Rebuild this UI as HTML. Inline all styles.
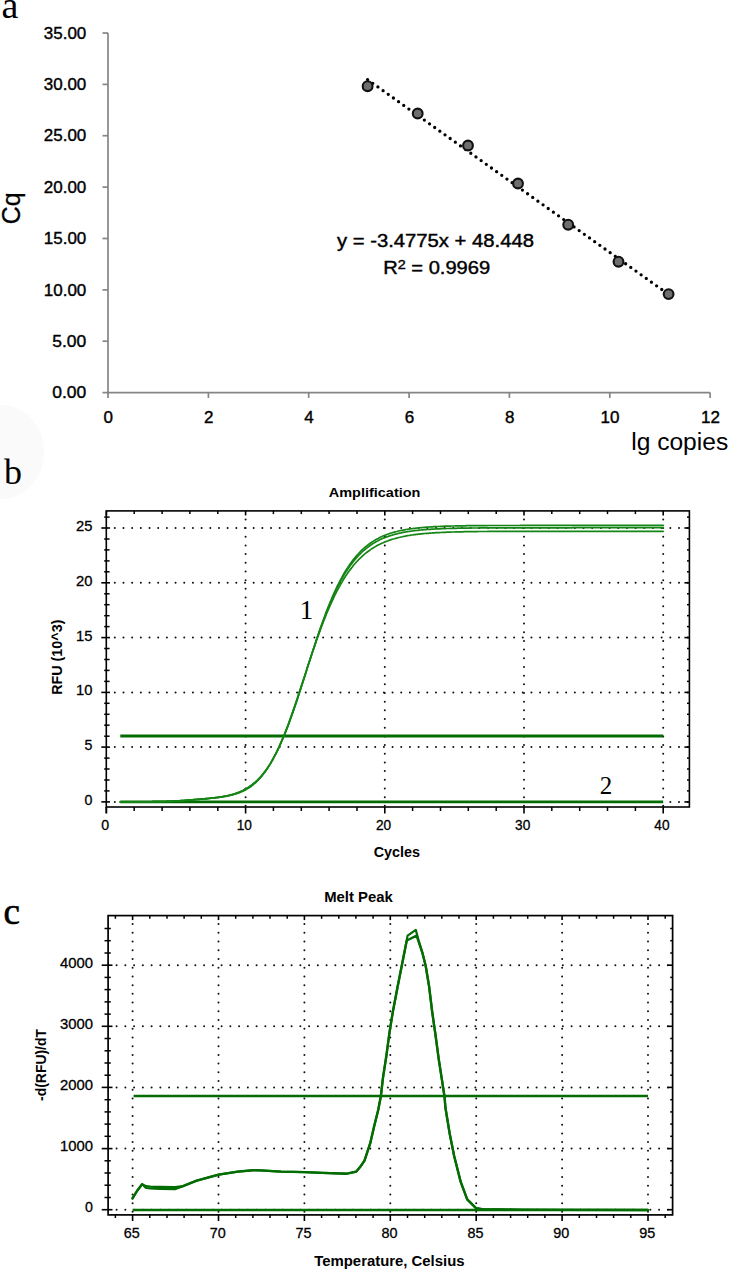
<!DOCTYPE html>
<html><head><meta charset="utf-8"><title>qPCR figure</title>
<style>html,body{margin:0;padding:0;background:#fff;}svg{display:block;}</style></head>
<body><svg width="731" height="1270" viewBox="0 0 731 1270">
<rect width="731" height="1270" fill="#fff"/>
<ellipse cx="2" cy="452" rx="42" ry="47" fill="#fafafa"/>
<text x="1.5" y="17.5" font-size="38" font-family='"Liberation Serif", serif' fill="#000">a</text>
<text x="4" y="484.3" font-size="36" font-family='"Liberation Serif", serif' fill="#000">b</text>
<text x="3.5" y="923.7" font-size="37" font-family='"Liberation Serif", serif' fill="#000" stroke="#000" stroke-width="0.6">c</text>
<line x1="108" y1="33" x2="108" y2="393.4" stroke="#858585" stroke-width="1.7"/>
<line x1="107.2" y1="392.6" x2="710.1" y2="392.6" stroke="#858585" stroke-width="1.7"/>
<line x1="102.5" y1="392.6" x2="108" y2="392.6" stroke="#858585" stroke-width="1.7"/>
<text x="86.3" y="398.2" font-size="17" font-family='"Liberation Sans", sans-serif' text-anchor="end" textLength="34" lengthAdjust="spacingAndGlyphs" fill="#000" stroke="#000" stroke-width="0.4">0.00</text>
<line x1="102.5" y1="341.2" x2="108" y2="341.2" stroke="#858585" stroke-width="1.7"/>
<text x="86.3" y="346.8" font-size="17" font-family='"Liberation Sans", sans-serif' text-anchor="end" textLength="34" lengthAdjust="spacingAndGlyphs" fill="#000" stroke="#000" stroke-width="0.4">5.00</text>
<line x1="102.5" y1="289.9" x2="108" y2="289.9" stroke="#858585" stroke-width="1.7"/>
<text x="86.3" y="295.5" font-size="17" font-family='"Liberation Sans", sans-serif' text-anchor="end" textLength="42.5" lengthAdjust="spacingAndGlyphs" fill="#000" stroke="#000" stroke-width="0.4">10.00</text>
<line x1="102.5" y1="238.5" x2="108" y2="238.5" stroke="#858585" stroke-width="1.7"/>
<text x="86.3" y="244.1" font-size="17" font-family='"Liberation Sans", sans-serif' text-anchor="end" textLength="42.5" lengthAdjust="spacingAndGlyphs" fill="#000" stroke="#000" stroke-width="0.4">15.00</text>
<line x1="102.5" y1="187.1" x2="108" y2="187.1" stroke="#858585" stroke-width="1.7"/>
<text x="86.3" y="192.7" font-size="17" font-family='"Liberation Sans", sans-serif' text-anchor="end" textLength="42.5" lengthAdjust="spacingAndGlyphs" fill="#000" stroke="#000" stroke-width="0.4">20.00</text>
<line x1="102.5" y1="135.7" x2="108" y2="135.7" stroke="#858585" stroke-width="1.7"/>
<text x="86.3" y="141.3" font-size="17" font-family='"Liberation Sans", sans-serif' text-anchor="end" textLength="42.5" lengthAdjust="spacingAndGlyphs" fill="#000" stroke="#000" stroke-width="0.4">25.00</text>
<line x1="102.5" y1="84.4" x2="108" y2="84.4" stroke="#858585" stroke-width="1.7"/>
<text x="86.3" y="90" font-size="17" font-family='"Liberation Sans", sans-serif' text-anchor="end" textLength="42.5" lengthAdjust="spacingAndGlyphs" fill="#000" stroke="#000" stroke-width="0.4">30.00</text>
<line x1="102.5" y1="33" x2="108" y2="33" stroke="#858585" stroke-width="1.7"/>
<text x="86.3" y="38.6" font-size="17" font-family='"Liberation Sans", sans-serif' text-anchor="end" textLength="42.5" lengthAdjust="spacingAndGlyphs" fill="#000" stroke="#000" stroke-width="0.4">35.00</text>
<line x1="108" y1="392.6" x2="108" y2="397.9" stroke="#858585" stroke-width="1.7"/>
<text x="108.3" y="423.3" font-size="17" font-family='"Liberation Sans", sans-serif' text-anchor="middle" fill="#000" stroke="#000" stroke-width="0.4">0</text>
<line x1="208.4" y1="392.6" x2="208.4" y2="397.9" stroke="#858585" stroke-width="1.7"/>
<text x="208.7" y="423.3" font-size="17" font-family='"Liberation Sans", sans-serif' text-anchor="middle" fill="#000" stroke="#000" stroke-width="0.4">2</text>
<line x1="308.7" y1="392.6" x2="308.7" y2="397.9" stroke="#858585" stroke-width="1.7"/>
<text x="309" y="423.3" font-size="17" font-family='"Liberation Sans", sans-serif' text-anchor="middle" fill="#000" stroke="#000" stroke-width="0.4">4</text>
<line x1="409.1" y1="392.6" x2="409.1" y2="397.9" stroke="#858585" stroke-width="1.7"/>
<text x="409.4" y="423.3" font-size="17" font-family='"Liberation Sans", sans-serif' text-anchor="middle" fill="#000" stroke="#000" stroke-width="0.4">6</text>
<line x1="509.4" y1="392.6" x2="509.4" y2="397.9" stroke="#858585" stroke-width="1.7"/>
<text x="509.7" y="423.3" font-size="17" font-family='"Liberation Sans", sans-serif' text-anchor="middle" fill="#000" stroke="#000" stroke-width="0.4">8</text>
<line x1="609.8" y1="392.6" x2="609.8" y2="397.9" stroke="#858585" stroke-width="1.7"/>
<text x="610" y="423.3" font-size="17" font-family='"Liberation Sans", sans-serif' text-anchor="middle" fill="#000" stroke="#000" stroke-width="0.4">10</text>
<line x1="710.1" y1="392.6" x2="710.1" y2="397.9" stroke="#858585" stroke-width="1.7"/>
<text x="710.4" y="423.3" font-size="17" font-family='"Liberation Sans", sans-serif' text-anchor="middle" fill="#000" stroke="#000" stroke-width="0.4">12</text>
<text x="631.2" y="449.5" font-size="23" font-family='"Liberation Sans", sans-serif' textLength="97" lengthAdjust="spacingAndGlyphs" fill="#000">lg copies</text>
<text transform="translate(19.5,224.3) rotate(-90)" font-size="25.5" stroke="#000" stroke-width="0.3" font-family='"Liberation Sans", sans-serif' textLength="31.8" lengthAdjust="spacingAndGlyphs">Cq</text>
<line x1="367.6" y1="79.6" x2="668.6" y2="294.4" stroke="#000" stroke-width="3.3" stroke-dasharray="0 6.34" stroke-linecap="round"/>
<circle cx="367.6" cy="86.2" r="4.9" fill="#6e6e6e" stroke="#111" stroke-width="2.1"/>
<circle cx="417.7" cy="113.5" r="4.9" fill="#6e6e6e" stroke="#111" stroke-width="2.1"/>
<circle cx="468.0" cy="145.5" r="4.9" fill="#6e6e6e" stroke="#111" stroke-width="2.1"/>
<circle cx="518.0" cy="183.5" r="4.9" fill="#6e6e6e" stroke="#111" stroke-width="2.1"/>
<circle cx="568.2" cy="224.7" r="4.9" fill="#6e6e6e" stroke="#111" stroke-width="2.1"/>
<circle cx="618.5" cy="261.7" r="4.9" fill="#6e6e6e" stroke="#111" stroke-width="2.1"/>
<circle cx="668.6" cy="294.1" r="4.9" fill="#6e6e6e" stroke="#111" stroke-width="2.1"/>
<text x="337" y="246.7" font-size="17.5" font-family='"Liberation Sans", sans-serif' textLength="197" lengthAdjust="spacingAndGlyphs" fill="#000" stroke="#000" stroke-width="0.4">y = -3.4775x + 48.448</text>
<text x="383.2" y="274.1" font-size="17.5" font-family='"Liberation Sans", sans-serif' textLength="107" lengthAdjust="spacingAndGlyphs" stroke="#000" stroke-width="0.4">R<tspan font-size="12.5" dy="-5">2</tspan><tspan dy="5"> = 0.9969</tspan></text>
<line x1="114.8" y1="801.9" x2="689.4" y2="801.9" stroke="#111" stroke-width="2.0" stroke-dasharray="0 8.68" stroke-linecap="round"/>
<line x1="114.8" y1="747.1" x2="689.4" y2="747.1" stroke="#111" stroke-width="2.0" stroke-dasharray="0 8.68" stroke-linecap="round"/>
<line x1="114.8" y1="692.4" x2="689.4" y2="692.4" stroke="#111" stroke-width="2.0" stroke-dasharray="0 8.68" stroke-linecap="round"/>
<line x1="114.8" y1="637.6" x2="689.4" y2="637.6" stroke="#111" stroke-width="2.0" stroke-dasharray="0 8.68" stroke-linecap="round"/>
<line x1="114.8" y1="582.8" x2="689.4" y2="582.8" stroke="#111" stroke-width="2.0" stroke-dasharray="0 8.68" stroke-linecap="round"/>
<line x1="114.8" y1="528" x2="689.4" y2="528" stroke="#111" stroke-width="2.0" stroke-dasharray="0 8.68" stroke-linecap="round"/>
<line x1="245.6" y1="519.4" x2="245.6" y2="807" stroke="#111" stroke-width="2.0" stroke-dasharray="0 8.68" stroke-linecap="round"/>
<line x1="384.8" y1="519.4" x2="384.8" y2="807" stroke="#111" stroke-width="2.0" stroke-dasharray="0 8.68" stroke-linecap="round"/>
<line x1="524" y1="519.4" x2="524" y2="807" stroke="#111" stroke-width="2.0" stroke-dasharray="0 8.68" stroke-linecap="round"/>
<line x1="663.2" y1="519.4" x2="663.2" y2="807" stroke="#111" stroke-width="2.0" stroke-dasharray="0 8.68" stroke-linecap="round"/>
<rect x="106.3" y="510.9" width="583.1" height="296.1" fill="none" stroke="#000" stroke-width="1.6"/>
<line x1="106.3" y1="807" x2="106.3" y2="813.2" stroke="#000" stroke-width="1.6"/>
<line x1="101.3" y1="801.9" x2="110" y2="801.9" stroke="#000" stroke-width="1.6"/>
<line x1="684.4" y1="801.9" x2="689.4" y2="801.9" stroke="#000" stroke-width="1.6"/>
<line x1="104.2" y1="790.9" x2="109.6" y2="790.9" stroke="#000" stroke-width="1.5"/>
<line x1="687" y1="790.9" x2="689.4" y2="790.9" stroke="#000" stroke-width="1.5"/>
<line x1="104.2" y1="780" x2="109.6" y2="780" stroke="#000" stroke-width="1.5"/>
<line x1="687" y1="780" x2="689.4" y2="780" stroke="#000" stroke-width="1.5"/>
<line x1="104.2" y1="769" x2="109.6" y2="769" stroke="#000" stroke-width="1.5"/>
<line x1="687" y1="769" x2="689.4" y2="769" stroke="#000" stroke-width="1.5"/>
<line x1="104.2" y1="758.1" x2="109.6" y2="758.1" stroke="#000" stroke-width="1.5"/>
<line x1="687" y1="758.1" x2="689.4" y2="758.1" stroke="#000" stroke-width="1.5"/>
<line x1="101.3" y1="747.1" x2="110" y2="747.1" stroke="#000" stroke-width="1.6"/>
<line x1="684.4" y1="747.1" x2="689.4" y2="747.1" stroke="#000" stroke-width="1.6"/>
<line x1="104.2" y1="736.2" x2="109.6" y2="736.2" stroke="#000" stroke-width="1.5"/>
<line x1="687" y1="736.2" x2="689.4" y2="736.2" stroke="#000" stroke-width="1.5"/>
<line x1="104.2" y1="725.2" x2="109.6" y2="725.2" stroke="#000" stroke-width="1.5"/>
<line x1="687" y1="725.2" x2="689.4" y2="725.2" stroke="#000" stroke-width="1.5"/>
<line x1="104.2" y1="714.3" x2="109.6" y2="714.3" stroke="#000" stroke-width="1.5"/>
<line x1="687" y1="714.3" x2="689.4" y2="714.3" stroke="#000" stroke-width="1.5"/>
<line x1="104.2" y1="703.3" x2="109.6" y2="703.3" stroke="#000" stroke-width="1.5"/>
<line x1="687" y1="703.3" x2="689.4" y2="703.3" stroke="#000" stroke-width="1.5"/>
<line x1="101.3" y1="692.4" x2="110" y2="692.4" stroke="#000" stroke-width="1.6"/>
<line x1="684.4" y1="692.4" x2="689.4" y2="692.4" stroke="#000" stroke-width="1.6"/>
<line x1="104.2" y1="681.4" x2="109.6" y2="681.4" stroke="#000" stroke-width="1.5"/>
<line x1="687" y1="681.4" x2="689.4" y2="681.4" stroke="#000" stroke-width="1.5"/>
<line x1="104.2" y1="670.4" x2="109.6" y2="670.4" stroke="#000" stroke-width="1.5"/>
<line x1="687" y1="670.4" x2="689.4" y2="670.4" stroke="#000" stroke-width="1.5"/>
<line x1="104.2" y1="659.5" x2="109.6" y2="659.5" stroke="#000" stroke-width="1.5"/>
<line x1="687" y1="659.5" x2="689.4" y2="659.5" stroke="#000" stroke-width="1.5"/>
<line x1="104.2" y1="648.5" x2="109.6" y2="648.5" stroke="#000" stroke-width="1.5"/>
<line x1="687" y1="648.5" x2="689.4" y2="648.5" stroke="#000" stroke-width="1.5"/>
<line x1="101.3" y1="637.6" x2="110" y2="637.6" stroke="#000" stroke-width="1.6"/>
<line x1="684.4" y1="637.6" x2="689.4" y2="637.6" stroke="#000" stroke-width="1.6"/>
<line x1="104.2" y1="626.6" x2="109.6" y2="626.6" stroke="#000" stroke-width="1.5"/>
<line x1="687" y1="626.6" x2="689.4" y2="626.6" stroke="#000" stroke-width="1.5"/>
<line x1="104.2" y1="615.7" x2="109.6" y2="615.7" stroke="#000" stroke-width="1.5"/>
<line x1="687" y1="615.7" x2="689.4" y2="615.7" stroke="#000" stroke-width="1.5"/>
<line x1="104.2" y1="604.7" x2="109.6" y2="604.7" stroke="#000" stroke-width="1.5"/>
<line x1="687" y1="604.7" x2="689.4" y2="604.7" stroke="#000" stroke-width="1.5"/>
<line x1="104.2" y1="593.8" x2="109.6" y2="593.8" stroke="#000" stroke-width="1.5"/>
<line x1="687" y1="593.8" x2="689.4" y2="593.8" stroke="#000" stroke-width="1.5"/>
<line x1="101.3" y1="582.8" x2="110" y2="582.8" stroke="#000" stroke-width="1.6"/>
<line x1="684.4" y1="582.8" x2="689.4" y2="582.8" stroke="#000" stroke-width="1.6"/>
<line x1="104.2" y1="571.8" x2="109.6" y2="571.8" stroke="#000" stroke-width="1.5"/>
<line x1="687" y1="571.8" x2="689.4" y2="571.8" stroke="#000" stroke-width="1.5"/>
<line x1="104.2" y1="560.9" x2="109.6" y2="560.9" stroke="#000" stroke-width="1.5"/>
<line x1="687" y1="560.9" x2="689.4" y2="560.9" stroke="#000" stroke-width="1.5"/>
<line x1="104.2" y1="549.9" x2="109.6" y2="549.9" stroke="#000" stroke-width="1.5"/>
<line x1="687" y1="549.9" x2="689.4" y2="549.9" stroke="#000" stroke-width="1.5"/>
<line x1="104.2" y1="539" x2="109.6" y2="539" stroke="#000" stroke-width="1.5"/>
<line x1="687" y1="539" x2="689.4" y2="539" stroke="#000" stroke-width="1.5"/>
<line x1="101.3" y1="528" x2="110" y2="528" stroke="#000" stroke-width="1.6"/>
<line x1="684.4" y1="528" x2="689.4" y2="528" stroke="#000" stroke-width="1.6"/>
<line x1="104.2" y1="517.1" x2="109.6" y2="517.1" stroke="#000" stroke-width="1.5"/>
<line x1="687" y1="517.1" x2="689.4" y2="517.1" stroke="#000" stroke-width="1.5"/>
<line x1="106.4" y1="807" x2="106.4" y2="813.5" stroke="#000" stroke-width="1.6"/>
<line x1="106.4" y1="510.9" x2="106.4" y2="515.4" stroke="#000" stroke-width="1.6"/>
<line x1="134.2" y1="807" x2="134.2" y2="811" stroke="#000" stroke-width="1.5"/>
<line x1="134.2" y1="510.9" x2="134.2" y2="514.1" stroke="#000" stroke-width="1.5"/>
<line x1="162.1" y1="807" x2="162.1" y2="811" stroke="#000" stroke-width="1.5"/>
<line x1="162.1" y1="510.9" x2="162.1" y2="514.1" stroke="#000" stroke-width="1.5"/>
<line x1="189.9" y1="807" x2="189.9" y2="811" stroke="#000" stroke-width="1.5"/>
<line x1="189.9" y1="510.9" x2="189.9" y2="514.1" stroke="#000" stroke-width="1.5"/>
<line x1="217.8" y1="807" x2="217.8" y2="811" stroke="#000" stroke-width="1.5"/>
<line x1="217.8" y1="510.9" x2="217.8" y2="514.1" stroke="#000" stroke-width="1.5"/>
<line x1="245.6" y1="807" x2="245.6" y2="813.5" stroke="#000" stroke-width="1.6"/>
<line x1="245.6" y1="510.9" x2="245.6" y2="515.4" stroke="#000" stroke-width="1.6"/>
<line x1="273.4" y1="807" x2="273.4" y2="811" stroke="#000" stroke-width="1.5"/>
<line x1="273.4" y1="510.9" x2="273.4" y2="514.1" stroke="#000" stroke-width="1.5"/>
<line x1="301.3" y1="807" x2="301.3" y2="811" stroke="#000" stroke-width="1.5"/>
<line x1="301.3" y1="510.9" x2="301.3" y2="514.1" stroke="#000" stroke-width="1.5"/>
<line x1="329.1" y1="807" x2="329.1" y2="811" stroke="#000" stroke-width="1.5"/>
<line x1="329.1" y1="510.9" x2="329.1" y2="514.1" stroke="#000" stroke-width="1.5"/>
<line x1="357" y1="807" x2="357" y2="811" stroke="#000" stroke-width="1.5"/>
<line x1="357" y1="510.9" x2="357" y2="514.1" stroke="#000" stroke-width="1.5"/>
<line x1="384.8" y1="807" x2="384.8" y2="813.5" stroke="#000" stroke-width="1.6"/>
<line x1="384.8" y1="510.9" x2="384.8" y2="515.4" stroke="#000" stroke-width="1.6"/>
<line x1="412.6" y1="807" x2="412.6" y2="811" stroke="#000" stroke-width="1.5"/>
<line x1="412.6" y1="510.9" x2="412.6" y2="514.1" stroke="#000" stroke-width="1.5"/>
<line x1="440.5" y1="807" x2="440.5" y2="811" stroke="#000" stroke-width="1.5"/>
<line x1="440.5" y1="510.9" x2="440.5" y2="514.1" stroke="#000" stroke-width="1.5"/>
<line x1="468.3" y1="807" x2="468.3" y2="811" stroke="#000" stroke-width="1.5"/>
<line x1="468.3" y1="510.9" x2="468.3" y2="514.1" stroke="#000" stroke-width="1.5"/>
<line x1="496.2" y1="807" x2="496.2" y2="811" stroke="#000" stroke-width="1.5"/>
<line x1="496.2" y1="510.9" x2="496.2" y2="514.1" stroke="#000" stroke-width="1.5"/>
<line x1="524" y1="807" x2="524" y2="813.5" stroke="#000" stroke-width="1.6"/>
<line x1="524" y1="510.9" x2="524" y2="515.4" stroke="#000" stroke-width="1.6"/>
<line x1="551.8" y1="807" x2="551.8" y2="811" stroke="#000" stroke-width="1.5"/>
<line x1="551.8" y1="510.9" x2="551.8" y2="514.1" stroke="#000" stroke-width="1.5"/>
<line x1="579.7" y1="807" x2="579.7" y2="811" stroke="#000" stroke-width="1.5"/>
<line x1="579.7" y1="510.9" x2="579.7" y2="514.1" stroke="#000" stroke-width="1.5"/>
<line x1="607.5" y1="807" x2="607.5" y2="811" stroke="#000" stroke-width="1.5"/>
<line x1="607.5" y1="510.9" x2="607.5" y2="514.1" stroke="#000" stroke-width="1.5"/>
<line x1="635.4" y1="807" x2="635.4" y2="811" stroke="#000" stroke-width="1.5"/>
<line x1="635.4" y1="510.9" x2="635.4" y2="514.1" stroke="#000" stroke-width="1.5"/>
<line x1="663.2" y1="807" x2="663.2" y2="813.5" stroke="#000" stroke-width="1.6"/>
<line x1="663.2" y1="510.9" x2="663.2" y2="515.4" stroke="#000" stroke-width="1.6"/>
<text x="92.5" y="804.8" font-size="14.8" font-family='"Liberation Sans", sans-serif' text-anchor="end" textLength="7.9" lengthAdjust="spacingAndGlyphs" fill="#000" stroke="#000" stroke-width="0.3">0</text>
<text x="92.5" y="750" font-size="14.8" font-family='"Liberation Sans", sans-serif' text-anchor="end" textLength="7.9" lengthAdjust="spacingAndGlyphs" fill="#000" stroke="#000" stroke-width="0.3">5</text>
<text x="92.5" y="695.2" font-size="14.8" font-family='"Liberation Sans", sans-serif' text-anchor="end" textLength="16.4" lengthAdjust="spacingAndGlyphs" fill="#000" stroke="#000" stroke-width="0.3">10</text>
<text x="92.5" y="640.5" font-size="14.8" font-family='"Liberation Sans", sans-serif' text-anchor="end" textLength="16.4" lengthAdjust="spacingAndGlyphs" fill="#000" stroke="#000" stroke-width="0.3">15</text>
<text x="92.5" y="585.7" font-size="14.8" font-family='"Liberation Sans", sans-serif' text-anchor="end" textLength="16.4" lengthAdjust="spacingAndGlyphs" fill="#000" stroke="#000" stroke-width="0.3">20</text>
<text x="92.5" y="530.9" font-size="14.8" font-family='"Liberation Sans", sans-serif' text-anchor="end" textLength="16.4" lengthAdjust="spacingAndGlyphs" fill="#000" stroke="#000" stroke-width="0.3">25</text>
<text x="105.1" y="830.1" font-size="14.8" font-family='"Liberation Sans", sans-serif' text-anchor="middle" textLength="7.9" lengthAdjust="spacingAndGlyphs" fill="#000" stroke="#000" stroke-width="0.3">0</text>
<text x="244.3" y="830.1" font-size="14.8" font-family='"Liberation Sans", sans-serif' text-anchor="middle" textLength="15.2" lengthAdjust="spacingAndGlyphs" fill="#000" stroke="#000" stroke-width="0.3">10</text>
<text x="383.5" y="830.1" font-size="14.8" font-family='"Liberation Sans", sans-serif' text-anchor="middle" textLength="15.2" lengthAdjust="spacingAndGlyphs" fill="#000" stroke="#000" stroke-width="0.3">20</text>
<text x="522.7" y="830.1" font-size="14.8" font-family='"Liberation Sans", sans-serif' text-anchor="middle" textLength="15.2" lengthAdjust="spacingAndGlyphs" fill="#000" stroke="#000" stroke-width="0.3">30</text>
<text x="661.9" y="830.1" font-size="14.8" font-family='"Liberation Sans", sans-serif' text-anchor="middle" textLength="15.2" lengthAdjust="spacingAndGlyphs" fill="#000" stroke="#000" stroke-width="0.3">40</text>
<text x="328.8" y="496.5" font-size="13.6" font-family='"Liberation Sans", sans-serif' font-weight="bold" textLength="91.6" lengthAdjust="spacingAndGlyphs" fill="#000">Amplification</text>
<text x="373.7" y="857.4" font-size="14.3" font-family='"Liberation Sans", sans-serif' font-weight="bold" textLength="46.3" lengthAdjust="spacingAndGlyphs" fill="#000">Cycles</text>
<text transform="translate(62.4,694.8) rotate(-90)" font-size="14.4" font-weight="bold" font-family='"Liberation Sans", sans-serif' textLength="75.2" lengthAdjust="spacingAndGlyphs">RFU (10^3)</text>
<text x="299.8" y="619" font-size="27" font-family='"Liberation Serif", serif' fill="#000">1</text>
<text x="599.8" y="793.6" font-size="25" font-family='"Liberation Serif", serif' fill="#000">2</text>
<line x1="120.3" y1="736" x2="663.2" y2="736" stroke="#036c03" stroke-width="2.8"/>
<line x1="120.3" y1="801.9" x2="663.2" y2="801.9" stroke="#036c03" stroke-width="2.8"/>
<path d="M120.3,801.9 L121.4,801.9 L122.5,801.9 L123.6,801.9 L124.7,801.9 L125.8,801.9 L126.8,801.9 L127.9,801.9 L129.0,801.9 L130.1,801.9 L131.2,801.9 L132.3,801.9 L133.4,801.9 L134.5,801.9 L135.6,801.9 L136.6,801.9 L137.7,801.9 L138.8,801.8 L139.9,801.8 L141.0,801.8 L142.1,801.8 L143.2,801.8 L144.3,801.8 L145.3,801.8 L146.4,801.8 L147.5,801.8 L148.6,801.8 L149.7,801.8 L150.8,801.8 L151.9,801.8 L153.0,801.7 L154.0,801.7 L155.1,801.7 L156.2,801.7 L157.3,801.7 L158.4,801.7 L159.5,801.6 L160.6,801.6 L161.7,801.6 L162.7,801.6 L163.8,801.5 L164.9,801.5 L166.0,801.5 L167.1,801.4 L168.2,801.4 L169.3,801.4 L170.4,801.3 L171.5,801.3 L172.5,801.2 L173.6,801.2 L174.7,801.1 L175.8,801.1 L176.9,801.0 L178.0,800.9 L179.1,800.9 L180.2,800.8 L181.2,800.7 L182.3,800.7 L183.4,800.6 L184.5,800.5 L185.6,800.4 L186.7,800.3 L187.8,800.3 L188.9,800.2 L189.9,800.1 L191.0,800.0 L192.1,799.9 L193.2,799.8 L194.3,799.7 L195.4,799.6 L196.5,799.5 L197.6,799.5 L198.7,799.4 L199.7,799.3 L200.8,799.2 L201.9,799.1 L203.0,799.0 L204.1,798.9 L205.2,798.8 L206.3,798.7 L207.4,798.6 L208.4,798.5 L209.5,798.4 L210.6,798.2 L211.7,798.1 L212.8,798.0 L213.9,797.9 L215.0,797.7 L216.1,797.6 L217.1,797.5 L218.2,797.3 L219.3,797.1 L220.4,797.0 L221.5,796.8 L222.6,796.6 L223.7,796.4 L224.8,796.2 L225.8,796.0 L226.9,795.8 L228.0,795.5 L229.1,795.3 L230.2,795.0 L231.3,794.7 L232.4,794.4 L233.5,794.1 L234.6,793.7 L235.6,793.4 L236.7,793.0 L237.8,792.6 L238.9,792.2 L240.0,791.7 L241.1,791.2 L242.2,790.7 L243.3,790.2 L244.3,789.6 L245.4,789.0 L246.5,788.4 L247.6,787.8 L248.7,787.1 L249.8,786.3 L250.9,785.6 L252.0,784.8 L253.0,783.9 L254.1,783.0 L255.2,782.1 L256.3,781.1 L257.4,780.1 L258.5,779.0 L259.6,777.9 L260.7,776.7 L261.8,775.5 L262.8,774.2 L263.9,772.8 L265.0,771.4 L266.1,769.9 L267.2,768.4 L268.3,766.8 L269.4,765.1 L270.5,763.4 L271.5,761.6 L272.6,759.7 L273.7,757.7 L274.8,755.7 L275.9,753.6 L277.0,751.5 L278.1,749.3 L279.2,747.0 L280.2,744.6 L281.3,742.2 L282.4,739.7 L283.5,737.1 L284.6,734.5 L285.7,731.8 L286.8,729.0 L287.9,726.2 L289.0,723.3 L290.0,720.3 L291.1,717.3 L292.2,714.2 L293.3,711.1 L294.4,708.0 L295.5,704.8 L296.6,701.5 L297.7,698.2 L298.7,694.9 L299.8,691.6 L300.9,688.2 L302.0,684.8 L303.1,681.4 L304.2,678.0 L305.3,674.6 L306.4,671.1 L307.4,667.7 L308.5,664.3 L309.6,660.8 L310.7,657.4 L311.8,654.0 L312.9,650.6 L314.0,647.3 L315.1,644.0 L316.1,640.7 L317.2,637.4 L318.3,634.2 L319.4,631.0 L320.5,627.9 L321.6,624.8 L322.7,621.7 L323.8,618.7 L324.9,615.8 L325.9,612.9 L327.0,610.0 L328.1,607.2 L329.2,604.5 L330.3,601.9 L331.4,599.3 L332.5,596.7 L333.6,594.2 L334.6,591.8 L335.7,589.5 L336.8,587.2 L337.9,584.9 L339.0,582.8 L340.1,580.7 L341.2,578.6 L342.3,576.6 L343.3,574.7 L344.4,572.8 L345.5,571.0 L346.6,569.3 L347.7,567.6 L348.8,565.9 L349.9,564.3 L351.0,562.8 L352.1,561.3 L353.1,559.9 L354.2,558.5 L355.3,557.2 L356.4,555.9 L357.5,554.7 L358.6,553.5 L359.7,552.3 L360.8,551.2 L361.8,550.2 L362.9,549.1 L364.0,548.2 L365.1,547.2 L366.2,546.3 L367.3,545.4 L368.4,544.6 L369.5,543.8 L370.5,543.0 L371.6,542.3 L372.7,541.6 L373.8,540.9 L374.9,540.2 L376.0,539.6 L377.1,539.0 L378.2,538.4 L379.2,537.8 L380.3,537.3 L381.4,536.8 L382.5,536.3 L383.6,535.8 L384.7,535.4 L385.8,534.9 L386.9,534.5 L388.0,534.1 L389.0,533.8 L390.1,533.4 L391.2,533.0 L392.3,532.7 L393.4,532.4 L394.5,532.1 L395.6,531.8 L396.7,531.5 L397.7,531.2 L398.8,531.0 L399.9,530.7 L401.0,530.5 L402.1,530.3 L403.2,530.1 L404.3,529.9 L405.4,529.7 L406.4,529.5 L407.5,529.3 L408.6,529.1 L409.7,529.0 L410.8,528.8 L411.9,528.7 L413.0,528.5 L414.1,528.4 L415.2,528.3 L416.2,528.1 L417.3,528.0 L418.4,527.9 L419.5,527.8 L420.6,527.7 L421.7,527.6 L422.8,527.5 L423.9,527.4 L424.9,527.3 L426.0,527.2 L427.1,527.1 L428.2,527.1 L429.3,527.0 L430.4,526.9 L431.5,526.9 L432.6,526.8 L433.6,526.7 L434.7,526.7 L435.8,526.6 L436.9,526.6 L438.0,526.5 L439.1,526.5 L440.2,526.4 L441.3,526.4 L442.3,526.3 L443.4,526.3 L444.5,526.2 L445.6,526.2 L446.7,526.2 L447.8,526.1 L448.9,526.1 L450.0,526.1 L451.1,526.0 L452.1,526.0 L453.2,526.0 L454.3,526.0 L455.4,525.9 L456.5,525.9 L457.6,525.9 L458.7,525.9 L459.8,525.9 L460.8,525.8 L461.9,525.8 L463.0,525.8 L464.1,525.8 L465.2,525.8 L466.3,525.7 L467.4,525.7 L468.5,525.7 L469.5,525.7 L470.6,525.7 L471.7,525.7 L472.8,525.7 L473.9,525.7 L475.0,525.6 L476.1,525.6 L477.2,525.6 L478.3,525.6 L479.3,525.6 L480.4,525.6 L481.5,525.6 L482.6,525.6 L483.7,525.6 L484.8,525.6 L485.9,525.6 L487.0,525.6 L488.0,525.5 L489.1,525.5 L490.2,525.5 L491.3,525.5 L492.4,525.5 L493.5,525.5 L494.6,525.5 L495.7,525.5 L496.7,525.5 L497.8,525.5 L498.9,525.5 L500.0,525.5 L501.1,525.5 L502.2,525.5 L503.3,525.5 L504.4,525.5 L505.4,525.5 L506.5,525.5 L507.6,525.5 L508.7,525.5 L509.8,525.5 L510.9,525.5 L512.0,525.5 L513.1,525.5 L514.2,525.5 L515.2,525.5 L516.3,525.5 L517.4,525.5 L518.5,525.5 L519.6,525.5 L520.7,525.4 L521.8,525.4 L522.9,525.4 L523.9,525.4 L525.0,525.4 L526.1,525.4 L527.2,525.4 L528.3,525.4 L529.4,525.4 L530.5,525.4 L531.6,525.4 L532.6,525.4 L533.7,525.4 L534.8,525.4 L535.9,525.4 L537.0,525.4 L538.1,525.4 L539.2,525.4 L540.3,525.4 L541.4,525.4 L542.4,525.4 L543.5,525.4 L544.6,525.4 L545.7,525.4 L546.8,525.4 L547.9,525.4 L549.0,525.4 L550.1,525.4 L551.1,525.4 L552.2,525.4 L553.3,525.4 L554.4,525.4 L555.5,525.4 L556.6,525.4 L557.7,525.4 L558.8,525.4 L559.8,525.4 L560.9,525.4 L562.0,525.4 L563.1,525.4 L564.2,525.4 L565.3,525.4 L566.4,525.4 L567.5,525.4 L568.5,525.4 L569.6,525.4 L570.7,525.4 L571.8,525.4 L572.9,525.4 L574.0,525.4 L575.1,525.4 L576.2,525.4 L577.3,525.4 L578.3,525.4 L579.4,525.4 L580.5,525.4 L581.6,525.4 L582.7,525.4 L583.8,525.4 L584.9,525.4 L586.0,525.4 L587.0,525.4 L588.1,525.4 L589.2,525.4 L590.3,525.4 L591.4,525.4 L592.5,525.4 L593.6,525.4 L594.7,525.4 L595.7,525.4 L596.8,525.4 L597.9,525.4 L599.0,525.4 L600.1,525.4 L601.2,525.4 L602.3,525.4 L603.4,525.4 L604.5,525.4 L605.5,525.4 L606.6,525.4 L607.7,525.4 L608.8,525.4 L609.9,525.4 L611.0,525.4 L612.1,525.4 L613.2,525.4 L614.2,525.4 L615.3,525.4 L616.4,525.4 L617.5,525.4 L618.6,525.4 L619.7,525.4 L620.8,525.4 L621.9,525.4 L622.9,525.4 L624.0,525.4 L625.1,525.4 L626.2,525.4 L627.3,525.4 L628.4,525.4 L629.5,525.4 L630.6,525.4 L631.6,525.4 L632.7,525.4 L633.8,525.4 L634.9,525.4 L636.0,525.4 L637.1,525.4 L638.2,525.4 L639.3,525.4 L640.4,525.4 L641.4,525.4 L642.5,525.4 L643.6,525.4 L644.7,525.4 L645.8,525.4 L646.9,525.4 L648.0,525.4 L649.1,525.4 L650.1,525.4 L651.2,525.4 L652.3,525.4 L653.4,525.4 L654.5,525.4 L655.6,525.4 L656.7,525.4 L657.8,525.4 L658.8,525.4 L659.9,525.4 L661.0,525.4 L662.1,525.4 L663.2,525.4" fill="none" stroke="#158515" stroke-width="1.7" stroke-linejoin="round" stroke-linecap="round"/>
<path d="M120.3,801.9 L121.4,801.9 L122.5,801.9 L123.6,801.9 L124.7,801.9 L125.8,801.9 L126.8,801.9 L127.9,801.9 L129.0,801.9 L130.1,801.9 L131.2,801.9 L132.3,801.9 L133.4,801.9 L134.5,801.9 L135.6,801.9 L136.6,801.9 L137.7,801.9 L138.8,801.8 L139.9,801.8 L141.0,801.8 L142.1,801.8 L143.2,801.8 L144.3,801.8 L145.3,801.8 L146.4,801.8 L147.5,801.8 L148.6,801.8 L149.7,801.8 L150.8,801.8 L151.9,801.8 L153.0,801.7 L154.0,801.7 L155.1,801.7 L156.2,801.7 L157.3,801.7 L158.4,801.7 L159.5,801.6 L160.6,801.6 L161.7,801.6 L162.7,801.6 L163.8,801.5 L164.9,801.5 L166.0,801.5 L167.1,801.4 L168.2,801.4 L169.3,801.4 L170.4,801.3 L171.5,801.3 L172.5,801.2 L173.6,801.2 L174.7,801.1 L175.8,801.1 L176.9,801.0 L178.0,800.9 L179.1,800.9 L180.2,800.8 L181.2,800.7 L182.3,800.6 L183.4,800.6 L184.5,800.5 L185.6,800.4 L186.7,800.3 L187.8,800.2 L188.9,800.2 L189.9,800.1 L191.0,800.0 L192.1,799.9 L193.2,799.8 L194.3,799.7 L195.4,799.6 L196.5,799.5 L197.6,799.4 L198.7,799.3 L199.7,799.2 L200.8,799.2 L201.9,799.1 L203.0,799.0 L204.1,798.9 L205.2,798.8 L206.3,798.7 L207.4,798.6 L208.4,798.5 L209.5,798.4 L210.6,798.2 L211.7,798.1 L212.8,798.0 L213.9,797.9 L215.0,797.8 L216.1,797.6 L217.1,797.5 L218.2,797.3 L219.3,797.2 L220.4,797.0 L221.5,796.8 L222.6,796.7 L223.7,796.5 L224.8,796.3 L225.8,796.1 L226.9,795.8 L228.0,795.6 L229.1,795.3 L230.2,795.1 L231.3,794.8 L232.4,794.5 L233.5,794.2 L234.6,793.8 L235.6,793.5 L236.7,793.1 L237.8,792.7 L238.9,792.3 L240.0,791.9 L241.1,791.4 L242.2,790.9 L243.3,790.4 L244.3,789.8 L245.4,789.2 L246.5,788.6 L247.6,787.9 L248.7,787.3 L249.8,786.5 L250.9,785.8 L252.0,785.0 L253.0,784.1 L254.1,783.2 L255.2,782.3 L256.3,781.3 L257.4,780.3 L258.5,779.2 L259.6,778.0 L260.7,776.8 L261.8,775.6 L262.8,774.3 L263.9,772.9 L265.0,771.5 L266.1,770.0 L267.2,768.4 L268.3,766.8 L269.4,765.1 L270.5,763.4 L271.5,761.6 L272.6,759.7 L273.7,757.7 L274.8,755.7 L275.9,753.6 L277.0,751.4 L278.1,749.2 L279.2,746.9 L280.2,744.5 L281.3,742.0 L282.4,739.5 L283.5,736.9 L284.6,734.3 L285.7,731.6 L286.8,728.8 L287.9,725.9 L289.0,723.0 L290.0,720.1 L291.1,717.1 L292.2,714.0 L293.3,710.9 L294.4,707.7 L295.5,704.5 L296.6,701.3 L297.7,698.0 L298.7,694.7 L299.8,691.4 L300.9,688.0 L302.0,684.6 L303.1,681.3 L304.2,677.9 L305.3,674.4 L306.4,671.0 L307.4,667.6 L308.5,664.2 L309.6,660.9 L310.7,657.5 L311.8,654.1 L312.9,650.8 L314.0,647.5 L315.1,644.2 L316.1,640.9 L317.2,637.7 L318.3,634.6 L319.4,631.4 L320.5,628.3 L321.6,625.3 L322.7,622.3 L323.8,619.4 L324.9,616.5 L325.9,613.6 L327.0,610.8 L328.1,608.1 L329.2,605.4 L330.3,602.8 L331.4,600.3 L332.5,597.8 L333.6,595.4 L334.6,593.0 L335.7,590.7 L336.8,588.4 L337.9,586.3 L339.0,584.1 L340.1,582.1 L341.2,580.1 L342.3,578.1 L343.3,576.2 L344.4,574.4 L345.5,572.6 L346.6,570.9 L347.7,569.3 L348.8,567.7 L349.9,566.1 L351.0,564.6 L352.1,563.2 L353.1,561.8 L354.2,560.4 L355.3,559.1 L356.4,557.9 L357.5,556.7 L358.6,555.5 L359.7,554.4 L360.8,553.3 L361.8,552.2 L362.9,551.2 L364.0,550.3 L365.1,549.3 L366.2,548.4 L367.3,547.6 L368.4,546.8 L369.5,546.0 L370.5,545.2 L371.6,544.5 L372.7,543.8 L373.8,543.1 L374.9,542.5 L376.0,541.8 L377.1,541.2 L378.2,540.7 L379.2,540.1 L380.3,539.6 L381.4,539.1 L382.5,538.6 L383.6,538.1 L384.7,537.7 L385.8,537.3 L386.9,536.9 L388.0,536.5 L389.0,536.1 L390.1,535.7 L391.2,535.4 L392.3,535.1 L393.4,534.7 L394.5,534.4 L395.6,534.1 L396.7,533.9 L397.7,533.6 L398.8,533.3 L399.9,533.1 L401.0,532.9 L402.1,532.6 L403.2,532.4 L404.3,532.2 L405.4,532.0 L406.4,531.8 L407.5,531.7 L408.6,531.5 L409.7,531.3 L410.8,531.2 L411.9,531.0 L413.0,530.9 L414.1,530.7 L415.2,530.6 L416.2,530.5 L417.3,530.4 L418.4,530.3 L419.5,530.1 L420.6,530.0 L421.7,529.9 L422.8,529.8 L423.9,529.7 L424.9,529.7 L426.0,529.6 L427.1,529.5 L428.2,529.4 L429.3,529.3 L430.4,529.3 L431.5,529.2 L432.6,529.1 L433.6,529.1 L434.7,529.0 L435.8,529.0 L436.9,528.9 L438.0,528.9 L439.1,528.8 L440.2,528.8 L441.3,528.7 L442.3,528.7 L443.4,528.6 L444.5,528.6 L445.6,528.6 L446.7,528.5 L447.8,528.5 L448.9,528.5 L450.0,528.4 L451.1,528.4 L452.1,528.4 L453.2,528.3 L454.3,528.3 L455.4,528.3 L456.5,528.3 L457.6,528.2 L458.7,528.2 L459.8,528.2 L460.8,528.2 L461.9,528.2 L463.0,528.1 L464.1,528.1 L465.2,528.1 L466.3,528.1 L467.4,528.1 L468.5,528.1 L469.5,528.0 L470.6,528.0 L471.7,528.0 L472.8,528.0 L473.9,528.0 L475.0,528.0 L476.1,528.0 L477.2,528.0 L478.3,528.0 L479.3,527.9 L480.4,527.9 L481.5,527.9 L482.6,527.9 L483.7,527.9 L484.8,527.9 L485.9,527.9 L487.0,527.9 L488.0,527.9 L489.1,527.9 L490.2,527.9 L491.3,527.9 L492.4,527.9 L493.5,527.9 L494.6,527.9 L495.7,527.8 L496.7,527.8 L497.8,527.8 L498.9,527.8 L500.0,527.8 L501.1,527.8 L502.2,527.8 L503.3,527.8 L504.4,527.8 L505.4,527.8 L506.5,527.8 L507.6,527.8 L508.7,527.8 L509.8,527.8 L510.9,527.8 L512.0,527.8 L513.1,527.8 L514.2,527.8 L515.2,527.8 L516.3,527.8 L517.4,527.8 L518.5,527.8 L519.6,527.8 L520.7,527.8 L521.8,527.8 L522.9,527.8 L523.9,527.8 L525.0,527.8 L526.1,527.8 L527.2,527.8 L528.3,527.8 L529.4,527.8 L530.5,527.8 L531.6,527.8 L532.6,527.8 L533.7,527.8 L534.8,527.8 L535.9,527.8 L537.0,527.8 L538.1,527.8 L539.2,527.8 L540.3,527.8 L541.4,527.8 L542.4,527.8 L543.5,527.8 L544.6,527.8 L545.7,527.8 L546.8,527.8 L547.9,527.8 L549.0,527.8 L550.1,527.8 L551.1,527.8 L552.2,527.8 L553.3,527.8 L554.4,527.8 L555.5,527.8 L556.6,527.8 L557.7,527.8 L558.8,527.8 L559.8,527.8 L560.9,527.8 L562.0,527.8 L563.1,527.8 L564.2,527.8 L565.3,527.8 L566.4,527.8 L567.5,527.8 L568.5,527.8 L569.6,527.8 L570.7,527.8 L571.8,527.8 L572.9,527.7 L574.0,527.7 L575.1,527.7 L576.2,527.7 L577.3,527.7 L578.3,527.7 L579.4,527.7 L580.5,527.7 L581.6,527.7 L582.7,527.7 L583.8,527.7 L584.9,527.7 L586.0,527.7 L587.0,527.7 L588.1,527.7 L589.2,527.7 L590.3,527.7 L591.4,527.7 L592.5,527.7 L593.6,527.7 L594.7,527.7 L595.7,527.7 L596.8,527.7 L597.9,527.7 L599.0,527.7 L600.1,527.7 L601.2,527.7 L602.3,527.7 L603.4,527.7 L604.5,527.7 L605.5,527.7 L606.6,527.7 L607.7,527.7 L608.8,527.7 L609.9,527.7 L611.0,527.7 L612.1,527.7 L613.2,527.7 L614.2,527.7 L615.3,527.7 L616.4,527.7 L617.5,527.7 L618.6,527.7 L619.7,527.7 L620.8,527.7 L621.9,527.7 L622.9,527.7 L624.0,527.7 L625.1,527.7 L626.2,527.7 L627.3,527.7 L628.4,527.7 L629.5,527.7 L630.6,527.7 L631.6,527.7 L632.7,527.7 L633.8,527.7 L634.9,527.7 L636.0,527.7 L637.1,527.7 L638.2,527.7 L639.3,527.7 L640.4,527.7 L641.4,527.7 L642.5,527.7 L643.6,527.7 L644.7,527.7 L645.8,527.7 L646.9,527.7 L648.0,527.7 L649.1,527.7 L650.1,527.7 L651.2,527.7 L652.3,527.7 L653.4,527.7 L654.5,527.7 L655.6,527.7 L656.7,527.7 L657.8,527.7 L658.8,527.7 L659.9,527.7 L661.0,527.7 L662.1,527.7 L663.2,527.7" fill="none" stroke="#158515" stroke-width="1.7" stroke-linejoin="round" stroke-linecap="round"/>
<path d="M120.3,801.9 L121.4,801.9 L122.5,801.9 L123.6,801.9 L124.7,801.9 L125.8,801.9 L126.8,801.9 L127.9,801.9 L129.0,801.9 L130.1,801.9 L131.2,801.9 L132.3,801.9 L133.4,801.9 L134.5,801.9 L135.6,801.9 L136.6,801.9 L137.7,801.9 L138.8,801.9 L139.9,801.8 L141.0,801.8 L142.1,801.8 L143.2,801.8 L144.3,801.8 L145.3,801.8 L146.4,801.8 L147.5,801.8 L148.6,801.8 L149.7,801.8 L150.8,801.8 L151.9,801.8 L153.0,801.7 L154.0,801.7 L155.1,801.7 L156.2,801.7 L157.3,801.7 L158.4,801.7 L159.5,801.6 L160.6,801.6 L161.7,801.6 L162.7,801.6 L163.8,801.5 L164.9,801.5 L166.0,801.5 L167.1,801.4 L168.2,801.4 L169.3,801.3 L170.4,801.3 L171.5,801.2 L172.5,801.2 L173.6,801.1 L174.7,801.1 L175.8,801.0 L176.9,800.9 L178.0,800.9 L179.1,800.8 L180.2,800.7 L181.2,800.6 L182.3,800.6 L183.4,800.5 L184.5,800.4 L185.6,800.3 L186.7,800.2 L187.8,800.1 L188.9,800.0 L189.9,799.9 L191.0,799.8 L192.1,799.8 L193.2,799.7 L194.3,799.6 L195.4,799.5 L196.5,799.4 L197.6,799.3 L198.7,799.2 L199.7,799.1 L200.8,799.0 L201.9,798.9 L203.0,798.9 L204.1,798.8 L205.2,798.7 L206.3,798.6 L207.4,798.5 L208.4,798.4 L209.5,798.3 L210.6,798.2 L211.7,798.1 L212.8,798.0 L213.9,797.9 L215.0,797.8 L216.1,797.7 L217.1,797.6 L218.2,797.4 L219.3,797.3 L220.4,797.2 L221.5,797.0 L222.6,796.9 L223.7,796.7 L224.8,796.5 L225.8,796.3 L226.9,796.1 L228.0,795.9 L229.1,795.7 L230.2,795.5 L231.3,795.2 L232.4,794.9 L233.5,794.6 L234.6,794.3 L235.6,794.0 L236.7,793.6 L237.8,793.3 L238.9,792.9 L240.0,792.4 L241.1,792.0 L242.2,791.5 L243.3,791.0 L244.3,790.5 L245.4,789.9 L246.5,789.3 L247.6,788.6 L248.7,788.0 L249.8,787.2 L250.9,786.5 L252.0,785.7 L253.0,784.8 L254.1,783.9 L255.2,783.0 L256.3,782.0 L257.4,780.9 L258.5,779.8 L259.6,778.7 L260.7,777.4 L261.8,776.2 L262.8,774.8 L263.9,773.4 L265.0,771.9 L266.1,770.4 L267.2,768.8 L268.3,767.1 L269.4,765.4 L270.5,763.6 L271.5,761.7 L272.6,759.8 L273.7,757.7 L274.8,755.6 L275.9,753.5 L277.0,751.2 L278.1,748.9 L279.2,746.6 L280.2,744.1 L281.3,741.6 L282.4,739.0 L283.5,736.4 L284.6,733.7 L285.7,730.9 L286.8,728.1 L287.9,725.2 L289.0,722.2 L290.0,719.2 L291.1,716.2 L292.2,713.1 L293.3,710.0 L294.4,706.8 L295.5,703.6 L296.6,700.4 L297.7,697.1 L298.7,693.9 L299.8,690.6 L300.9,687.3 L302.0,683.9 L303.1,680.6 L304.2,677.3 L305.3,673.9 L306.4,670.6 L307.4,667.3 L308.5,664.0 L309.6,660.7 L310.7,657.4 L311.8,654.2 L312.9,651.0 L314.0,647.8 L315.1,644.6 L316.1,641.5 L317.2,638.4 L318.3,635.4 L319.4,632.4 L320.5,629.4 L321.6,626.5 L322.7,623.6 L323.8,620.8 L324.9,618.1 L325.9,615.4 L327.0,612.7 L328.1,610.1 L329.2,607.6 L330.3,605.1 L331.4,602.7 L332.5,600.3 L333.6,598.0 L334.6,595.7 L335.7,593.5 L336.8,591.4 L337.9,589.3 L339.0,587.3 L340.1,585.3 L341.2,583.4 L342.3,581.6 L343.3,579.8 L344.4,578.0 L345.5,576.3 L346.6,574.7 L347.7,573.1 L348.8,571.5 L349.9,570.0 L351.0,568.6 L352.1,567.2 L353.1,565.8 L354.2,564.5 L355.3,563.3 L356.4,562.0 L357.5,560.9 L358.6,559.7 L359.7,558.6 L360.8,557.6 L361.8,556.6 L362.9,555.6 L364.0,554.6 L365.1,553.7 L366.2,552.8 L367.3,552.0 L368.4,551.2 L369.5,550.4 L370.5,549.6 L371.6,548.9 L372.7,548.2 L373.8,547.5 L374.9,546.9 L376.0,546.2 L377.1,545.6 L378.2,545.0 L379.2,544.5 L380.3,544.0 L381.4,543.4 L382.5,543.0 L383.6,542.5 L384.7,542.0 L385.8,541.6 L386.9,541.2 L388.0,540.8 L389.0,540.4 L390.1,540.0 L391.2,539.6 L392.3,539.3 L393.4,539.0 L394.5,538.7 L395.6,538.3 L396.7,538.1 L397.7,537.8 L398.8,537.5 L399.9,537.3 L401.0,537.0 L402.1,536.8 L403.2,536.5 L404.3,536.3 L405.4,536.1 L406.4,535.9 L407.5,535.7 L408.6,535.5 L409.7,535.4 L410.8,535.2 L411.9,535.0 L413.0,534.9 L414.1,534.7 L415.2,534.6 L416.2,534.4 L417.3,534.3 L418.4,534.2 L419.5,534.1 L420.6,533.9 L421.7,533.8 L422.8,533.7 L423.9,533.6 L424.9,533.5 L426.0,533.4 L427.1,533.3 L428.2,533.3 L429.3,533.2 L430.4,533.1 L431.5,533.0 L432.6,532.9 L433.6,532.9 L434.7,532.8 L435.8,532.7 L436.9,532.7 L438.0,532.6 L439.1,532.6 L440.2,532.5 L441.3,532.5 L442.3,532.4 L443.4,532.4 L444.5,532.3 L445.6,532.3 L446.7,532.2 L447.8,532.2 L448.9,532.1 L450.0,532.1 L451.1,532.1 L452.1,532.0 L453.2,532.0 L454.3,532.0 L455.4,531.9 L456.5,531.9 L457.6,531.9 L458.7,531.9 L459.8,531.8 L460.8,531.8 L461.9,531.8 L463.0,531.8 L464.1,531.7 L465.2,531.7 L466.3,531.7 L467.4,531.7 L468.5,531.7 L469.5,531.7 L470.6,531.6 L471.7,531.6 L472.8,531.6 L473.9,531.6 L475.0,531.6 L476.1,531.6 L477.2,531.6 L478.3,531.5 L479.3,531.5 L480.4,531.5 L481.5,531.5 L482.6,531.5 L483.7,531.5 L484.8,531.5 L485.9,531.5 L487.0,531.5 L488.0,531.4 L489.1,531.4 L490.2,531.4 L491.3,531.4 L492.4,531.4 L493.5,531.4 L494.6,531.4 L495.7,531.4 L496.7,531.4 L497.8,531.4 L498.9,531.4 L500.0,531.4 L501.1,531.4 L502.2,531.4 L503.3,531.4 L504.4,531.4 L505.4,531.4 L506.5,531.4 L507.6,531.3 L508.7,531.3 L509.8,531.3 L510.9,531.3 L512.0,531.3 L513.1,531.3 L514.2,531.3 L515.2,531.3 L516.3,531.3 L517.4,531.3 L518.5,531.3 L519.6,531.3 L520.7,531.3 L521.8,531.3 L522.9,531.3 L523.9,531.3 L525.0,531.3 L526.1,531.3 L527.2,531.3 L528.3,531.3 L529.4,531.3 L530.5,531.3 L531.6,531.3 L532.6,531.3 L533.7,531.3 L534.8,531.3 L535.9,531.3 L537.0,531.3 L538.1,531.3 L539.2,531.3 L540.3,531.3 L541.4,531.3 L542.4,531.3 L543.5,531.3 L544.6,531.3 L545.7,531.3 L546.8,531.3 L547.9,531.3 L549.0,531.3 L550.1,531.3 L551.1,531.3 L552.2,531.3 L553.3,531.3 L554.4,531.3 L555.5,531.3 L556.6,531.3 L557.7,531.3 L558.8,531.3 L559.8,531.3 L560.9,531.3 L562.0,531.3 L563.1,531.3 L564.2,531.3 L565.3,531.3 L566.4,531.3 L567.5,531.3 L568.5,531.3 L569.6,531.3 L570.7,531.3 L571.8,531.3 L572.9,531.3 L574.0,531.3 L575.1,531.3 L576.2,531.3 L577.3,531.3 L578.3,531.3 L579.4,531.3 L580.5,531.3 L581.6,531.3 L582.7,531.3 L583.8,531.3 L584.9,531.3 L586.0,531.3 L587.0,531.3 L588.1,531.3 L589.2,531.3 L590.3,531.3 L591.4,531.3 L592.5,531.3 L593.6,531.3 L594.7,531.3 L595.7,531.3 L596.8,531.3 L597.9,531.3 L599.0,531.3 L600.1,531.3 L601.2,531.3 L602.3,531.3 L603.4,531.3 L604.5,531.3 L605.5,531.3 L606.6,531.3 L607.7,531.3 L608.8,531.3 L609.9,531.3 L611.0,531.3 L612.1,531.3 L613.2,531.3 L614.2,531.3 L615.3,531.3 L616.4,531.3 L617.5,531.3 L618.6,531.3 L619.7,531.3 L620.8,531.3 L621.9,531.3 L622.9,531.3 L624.0,531.3 L625.1,531.3 L626.2,531.3 L627.3,531.3 L628.4,531.3 L629.5,531.3 L630.6,531.3 L631.6,531.3 L632.7,531.3 L633.8,531.3 L634.9,531.3 L636.0,531.3 L637.1,531.3 L638.2,531.3 L639.3,531.3 L640.4,531.3 L641.4,531.3 L642.5,531.3 L643.6,531.3 L644.7,531.3 L645.8,531.3 L646.9,531.3 L648.0,531.3 L649.1,531.3 L650.1,531.3 L651.2,531.3 L652.3,531.3 L653.4,531.3 L654.5,531.3 L655.6,531.3 L656.7,531.3 L657.8,531.3 L658.8,531.3 L659.9,531.3 L661.0,531.3 L662.1,531.3 L663.2,531.3" fill="none" stroke="#158515" stroke-width="1.7" stroke-linejoin="round" stroke-linecap="round"/>
<line x1="116.6" y1="1209.7" x2="672.6" y2="1209.7" stroke="#111" stroke-width="2.0" stroke-dasharray="0 8.75" stroke-linecap="round"/>
<line x1="116.6" y1="1148.6" x2="672.6" y2="1148.6" stroke="#111" stroke-width="2.0" stroke-dasharray="0 8.75" stroke-linecap="round"/>
<line x1="116.6" y1="1087.4" x2="672.6" y2="1087.4" stroke="#111" stroke-width="2.0" stroke-dasharray="0 8.75" stroke-linecap="round"/>
<line x1="116.6" y1="1026.3" x2="672.6" y2="1026.3" stroke="#111" stroke-width="2.0" stroke-dasharray="0 8.75" stroke-linecap="round"/>
<line x1="116.6" y1="965.2" x2="672.6" y2="965.2" stroke="#111" stroke-width="2.0" stroke-dasharray="0 8.75" stroke-linecap="round"/>
<line x1="132.6" y1="924.1" x2="132.6" y2="1214.9" stroke="#111" stroke-width="2.0" stroke-dasharray="0 8.72" stroke-linecap="round"/>
<line x1="218.5" y1="924.1" x2="218.5" y2="1214.9" stroke="#111" stroke-width="2.0" stroke-dasharray="0 8.72" stroke-linecap="round"/>
<line x1="304.4" y1="924.1" x2="304.4" y2="1214.9" stroke="#111" stroke-width="2.0" stroke-dasharray="0 8.72" stroke-linecap="round"/>
<line x1="390.3" y1="924.1" x2="390.3" y2="1214.9" stroke="#111" stroke-width="2.0" stroke-dasharray="0 8.72" stroke-linecap="round"/>
<line x1="476.2" y1="924.1" x2="476.2" y2="1214.9" stroke="#111" stroke-width="2.0" stroke-dasharray="0 8.72" stroke-linecap="round"/>
<line x1="562.1" y1="924.1" x2="562.1" y2="1214.9" stroke="#111" stroke-width="2.0" stroke-dasharray="0 8.72" stroke-linecap="round"/>
<line x1="648" y1="924.1" x2="648" y2="1214.9" stroke="#111" stroke-width="2.0" stroke-dasharray="0 8.72" stroke-linecap="round"/>
<rect x="108.1" y="915.6" width="564.5" height="299.3" fill="none" stroke="#000" stroke-width="1.7"/>
<line x1="101.7" y1="1209.7" x2="112.5" y2="1209.7" stroke="#000" stroke-width="1.6"/>
<line x1="667.6" y1="1209.7" x2="672.6" y2="1209.7" stroke="#000" stroke-width="1.6"/>
<line x1="104.5" y1="1197.5" x2="110.8" y2="1197.5" stroke="#000" stroke-width="1.5"/>
<line x1="670.2" y1="1197.5" x2="672.6" y2="1197.5" stroke="#000" stroke-width="1.5"/>
<line x1="104.5" y1="1185.2" x2="110.8" y2="1185.2" stroke="#000" stroke-width="1.5"/>
<line x1="670.2" y1="1185.2" x2="672.6" y2="1185.2" stroke="#000" stroke-width="1.5"/>
<line x1="104.5" y1="1173" x2="110.8" y2="1173" stroke="#000" stroke-width="1.5"/>
<line x1="670.2" y1="1173" x2="672.6" y2="1173" stroke="#000" stroke-width="1.5"/>
<line x1="104.5" y1="1160.8" x2="110.8" y2="1160.8" stroke="#000" stroke-width="1.5"/>
<line x1="670.2" y1="1160.8" x2="672.6" y2="1160.8" stroke="#000" stroke-width="1.5"/>
<line x1="101.7" y1="1148.6" x2="112.5" y2="1148.6" stroke="#000" stroke-width="1.6"/>
<line x1="667.6" y1="1148.6" x2="672.6" y2="1148.6" stroke="#000" stroke-width="1.6"/>
<line x1="104.5" y1="1136.3" x2="110.8" y2="1136.3" stroke="#000" stroke-width="1.5"/>
<line x1="670.2" y1="1136.3" x2="672.6" y2="1136.3" stroke="#000" stroke-width="1.5"/>
<line x1="104.5" y1="1124.1" x2="110.8" y2="1124.1" stroke="#000" stroke-width="1.5"/>
<line x1="670.2" y1="1124.1" x2="672.6" y2="1124.1" stroke="#000" stroke-width="1.5"/>
<line x1="104.5" y1="1111.9" x2="110.8" y2="1111.9" stroke="#000" stroke-width="1.5"/>
<line x1="670.2" y1="1111.9" x2="672.6" y2="1111.9" stroke="#000" stroke-width="1.5"/>
<line x1="104.5" y1="1099.7" x2="110.8" y2="1099.7" stroke="#000" stroke-width="1.5"/>
<line x1="670.2" y1="1099.7" x2="672.6" y2="1099.7" stroke="#000" stroke-width="1.5"/>
<line x1="101.7" y1="1087.4" x2="112.5" y2="1087.4" stroke="#000" stroke-width="1.6"/>
<line x1="667.6" y1="1087.4" x2="672.6" y2="1087.4" stroke="#000" stroke-width="1.6"/>
<line x1="104.5" y1="1075.2" x2="110.8" y2="1075.2" stroke="#000" stroke-width="1.5"/>
<line x1="670.2" y1="1075.2" x2="672.6" y2="1075.2" stroke="#000" stroke-width="1.5"/>
<line x1="104.5" y1="1063" x2="110.8" y2="1063" stroke="#000" stroke-width="1.5"/>
<line x1="670.2" y1="1063" x2="672.6" y2="1063" stroke="#000" stroke-width="1.5"/>
<line x1="104.5" y1="1050.8" x2="110.8" y2="1050.8" stroke="#000" stroke-width="1.5"/>
<line x1="670.2" y1="1050.8" x2="672.6" y2="1050.8" stroke="#000" stroke-width="1.5"/>
<line x1="104.5" y1="1038.5" x2="110.8" y2="1038.5" stroke="#000" stroke-width="1.5"/>
<line x1="670.2" y1="1038.5" x2="672.6" y2="1038.5" stroke="#000" stroke-width="1.5"/>
<line x1="101.7" y1="1026.3" x2="112.5" y2="1026.3" stroke="#000" stroke-width="1.6"/>
<line x1="667.6" y1="1026.3" x2="672.6" y2="1026.3" stroke="#000" stroke-width="1.6"/>
<line x1="104.5" y1="1014.1" x2="110.8" y2="1014.1" stroke="#000" stroke-width="1.5"/>
<line x1="670.2" y1="1014.1" x2="672.6" y2="1014.1" stroke="#000" stroke-width="1.5"/>
<line x1="104.5" y1="1001.9" x2="110.8" y2="1001.9" stroke="#000" stroke-width="1.5"/>
<line x1="670.2" y1="1001.9" x2="672.6" y2="1001.9" stroke="#000" stroke-width="1.5"/>
<line x1="104.5" y1="989.6" x2="110.8" y2="989.6" stroke="#000" stroke-width="1.5"/>
<line x1="670.2" y1="989.6" x2="672.6" y2="989.6" stroke="#000" stroke-width="1.5"/>
<line x1="104.5" y1="977.4" x2="110.8" y2="977.4" stroke="#000" stroke-width="1.5"/>
<line x1="670.2" y1="977.4" x2="672.6" y2="977.4" stroke="#000" stroke-width="1.5"/>
<line x1="101.7" y1="965.2" x2="112.5" y2="965.2" stroke="#000" stroke-width="1.6"/>
<line x1="667.6" y1="965.2" x2="672.6" y2="965.2" stroke="#000" stroke-width="1.6"/>
<line x1="104.5" y1="953" x2="110.8" y2="953" stroke="#000" stroke-width="1.5"/>
<line x1="670.2" y1="953" x2="672.6" y2="953" stroke="#000" stroke-width="1.5"/>
<line x1="104.5" y1="940.7" x2="110.8" y2="940.7" stroke="#000" stroke-width="1.5"/>
<line x1="670.2" y1="940.7" x2="672.6" y2="940.7" stroke="#000" stroke-width="1.5"/>
<line x1="104.5" y1="928.5" x2="110.8" y2="928.5" stroke="#000" stroke-width="1.5"/>
<line x1="670.2" y1="928.5" x2="672.6" y2="928.5" stroke="#000" stroke-width="1.5"/>
<line x1="115.4" y1="1214.9" x2="115.4" y2="1218" stroke="#000" stroke-width="1.5"/>
<line x1="115.4" y1="915.6" x2="115.4" y2="918.8" stroke="#000" stroke-width="1.5"/>
<line x1="132.6" y1="1214.9" x2="132.6" y2="1221" stroke="#000" stroke-width="1.6"/>
<line x1="132.6" y1="915.6" x2="132.6" y2="920.1" stroke="#000" stroke-width="1.6"/>
<line x1="149.8" y1="1214.9" x2="149.8" y2="1218" stroke="#000" stroke-width="1.5"/>
<line x1="149.8" y1="915.6" x2="149.8" y2="918.8" stroke="#000" stroke-width="1.5"/>
<line x1="167" y1="1214.9" x2="167" y2="1218" stroke="#000" stroke-width="1.5"/>
<line x1="167" y1="915.6" x2="167" y2="918.8" stroke="#000" stroke-width="1.5"/>
<line x1="184.1" y1="1214.9" x2="184.1" y2="1218" stroke="#000" stroke-width="1.5"/>
<line x1="184.1" y1="915.6" x2="184.1" y2="918.8" stroke="#000" stroke-width="1.5"/>
<line x1="201.3" y1="1214.9" x2="201.3" y2="1218" stroke="#000" stroke-width="1.5"/>
<line x1="201.3" y1="915.6" x2="201.3" y2="918.8" stroke="#000" stroke-width="1.5"/>
<line x1="218.5" y1="1214.9" x2="218.5" y2="1221" stroke="#000" stroke-width="1.6"/>
<line x1="218.5" y1="915.6" x2="218.5" y2="920.1" stroke="#000" stroke-width="1.6"/>
<line x1="235.7" y1="1214.9" x2="235.7" y2="1218" stroke="#000" stroke-width="1.5"/>
<line x1="235.7" y1="915.6" x2="235.7" y2="918.8" stroke="#000" stroke-width="1.5"/>
<line x1="252.9" y1="1214.9" x2="252.9" y2="1218" stroke="#000" stroke-width="1.5"/>
<line x1="252.9" y1="915.6" x2="252.9" y2="918.8" stroke="#000" stroke-width="1.5"/>
<line x1="270" y1="1214.9" x2="270" y2="1218" stroke="#000" stroke-width="1.5"/>
<line x1="270" y1="915.6" x2="270" y2="918.8" stroke="#000" stroke-width="1.5"/>
<line x1="287.2" y1="1214.9" x2="287.2" y2="1218" stroke="#000" stroke-width="1.5"/>
<line x1="287.2" y1="915.6" x2="287.2" y2="918.8" stroke="#000" stroke-width="1.5"/>
<line x1="304.4" y1="1214.9" x2="304.4" y2="1221" stroke="#000" stroke-width="1.6"/>
<line x1="304.4" y1="915.6" x2="304.4" y2="920.1" stroke="#000" stroke-width="1.6"/>
<line x1="321.6" y1="1214.9" x2="321.6" y2="1218" stroke="#000" stroke-width="1.5"/>
<line x1="321.6" y1="915.6" x2="321.6" y2="918.8" stroke="#000" stroke-width="1.5"/>
<line x1="338.8" y1="1214.9" x2="338.8" y2="1218" stroke="#000" stroke-width="1.5"/>
<line x1="338.8" y1="915.6" x2="338.8" y2="918.8" stroke="#000" stroke-width="1.5"/>
<line x1="355.9" y1="1214.9" x2="355.9" y2="1218" stroke="#000" stroke-width="1.5"/>
<line x1="355.9" y1="915.6" x2="355.9" y2="918.8" stroke="#000" stroke-width="1.5"/>
<line x1="373.1" y1="1214.9" x2="373.1" y2="1218" stroke="#000" stroke-width="1.5"/>
<line x1="373.1" y1="915.6" x2="373.1" y2="918.8" stroke="#000" stroke-width="1.5"/>
<line x1="390.3" y1="1214.9" x2="390.3" y2="1221" stroke="#000" stroke-width="1.6"/>
<line x1="390.3" y1="915.6" x2="390.3" y2="920.1" stroke="#000" stroke-width="1.6"/>
<line x1="407.5" y1="1214.9" x2="407.5" y2="1218" stroke="#000" stroke-width="1.5"/>
<line x1="407.5" y1="915.6" x2="407.5" y2="918.8" stroke="#000" stroke-width="1.5"/>
<line x1="424.7" y1="1214.9" x2="424.7" y2="1218" stroke="#000" stroke-width="1.5"/>
<line x1="424.7" y1="915.6" x2="424.7" y2="918.8" stroke="#000" stroke-width="1.5"/>
<line x1="441.8" y1="1214.9" x2="441.8" y2="1218" stroke="#000" stroke-width="1.5"/>
<line x1="441.8" y1="915.6" x2="441.8" y2="918.8" stroke="#000" stroke-width="1.5"/>
<line x1="459" y1="1214.9" x2="459" y2="1218" stroke="#000" stroke-width="1.5"/>
<line x1="459" y1="915.6" x2="459" y2="918.8" stroke="#000" stroke-width="1.5"/>
<line x1="476.2" y1="1214.9" x2="476.2" y2="1221" stroke="#000" stroke-width="1.6"/>
<line x1="476.2" y1="915.6" x2="476.2" y2="920.1" stroke="#000" stroke-width="1.6"/>
<line x1="493.4" y1="1214.9" x2="493.4" y2="1218" stroke="#000" stroke-width="1.5"/>
<line x1="493.4" y1="915.6" x2="493.4" y2="918.8" stroke="#000" stroke-width="1.5"/>
<line x1="510.6" y1="1214.9" x2="510.6" y2="1218" stroke="#000" stroke-width="1.5"/>
<line x1="510.6" y1="915.6" x2="510.6" y2="918.8" stroke="#000" stroke-width="1.5"/>
<line x1="527.7" y1="1214.9" x2="527.7" y2="1218" stroke="#000" stroke-width="1.5"/>
<line x1="527.7" y1="915.6" x2="527.7" y2="918.8" stroke="#000" stroke-width="1.5"/>
<line x1="544.9" y1="1214.9" x2="544.9" y2="1218" stroke="#000" stroke-width="1.5"/>
<line x1="544.9" y1="915.6" x2="544.9" y2="918.8" stroke="#000" stroke-width="1.5"/>
<line x1="562.1" y1="1214.9" x2="562.1" y2="1221" stroke="#000" stroke-width="1.6"/>
<line x1="562.1" y1="915.6" x2="562.1" y2="920.1" stroke="#000" stroke-width="1.6"/>
<line x1="579.3" y1="1214.9" x2="579.3" y2="1218" stroke="#000" stroke-width="1.5"/>
<line x1="579.3" y1="915.6" x2="579.3" y2="918.8" stroke="#000" stroke-width="1.5"/>
<line x1="596.5" y1="1214.9" x2="596.5" y2="1218" stroke="#000" stroke-width="1.5"/>
<line x1="596.5" y1="915.6" x2="596.5" y2="918.8" stroke="#000" stroke-width="1.5"/>
<line x1="613.6" y1="1214.9" x2="613.6" y2="1218" stroke="#000" stroke-width="1.5"/>
<line x1="613.6" y1="915.6" x2="613.6" y2="918.8" stroke="#000" stroke-width="1.5"/>
<line x1="630.8" y1="1214.9" x2="630.8" y2="1218" stroke="#000" stroke-width="1.5"/>
<line x1="630.8" y1="915.6" x2="630.8" y2="918.8" stroke="#000" stroke-width="1.5"/>
<line x1="648" y1="1214.9" x2="648" y2="1221" stroke="#000" stroke-width="1.6"/>
<line x1="648" y1="915.6" x2="648" y2="920.1" stroke="#000" stroke-width="1.6"/>
<line x1="665.2" y1="1214.9" x2="665.2" y2="1218" stroke="#000" stroke-width="1.5"/>
<line x1="665.2" y1="915.6" x2="665.2" y2="918.8" stroke="#000" stroke-width="1.5"/>
<text x="92.9" y="1212.4" font-size="14.8" font-family='"Liberation Sans", sans-serif' text-anchor="end" textLength="7.9" lengthAdjust="spacingAndGlyphs" fill="#000" stroke="#000" stroke-width="0.3">0</text>
<text x="92.9" y="1151.3" font-size="14.8" font-family='"Liberation Sans", sans-serif' text-anchor="end" textLength="33" lengthAdjust="spacingAndGlyphs" fill="#000" stroke="#000" stroke-width="0.3">1000</text>
<text x="92.9" y="1090.1" font-size="14.8" font-family='"Liberation Sans", sans-serif' text-anchor="end" textLength="33" lengthAdjust="spacingAndGlyphs" fill="#000" stroke="#000" stroke-width="0.3">2000</text>
<text x="92.9" y="1029" font-size="14.8" font-family='"Liberation Sans", sans-serif' text-anchor="end" textLength="33" lengthAdjust="spacingAndGlyphs" fill="#000" stroke="#000" stroke-width="0.3">3000</text>
<text x="92.9" y="967.9" font-size="14.8" font-family='"Liberation Sans", sans-serif' text-anchor="end" textLength="33" lengthAdjust="spacingAndGlyphs" fill="#000" stroke="#000" stroke-width="0.3">4000</text>
<text x="131.8" y="1238.1" font-size="14.8" font-family='"Liberation Sans", sans-serif' text-anchor="middle" textLength="16.0" lengthAdjust="spacingAndGlyphs" fill="#000" stroke="#000" stroke-width="0.3">65</text>
<text x="217.7" y="1238.1" font-size="14.8" font-family='"Liberation Sans", sans-serif' text-anchor="middle" textLength="16.0" lengthAdjust="spacingAndGlyphs" fill="#000" stroke="#000" stroke-width="0.3">70</text>
<text x="303.6" y="1238.1" font-size="14.8" font-family='"Liberation Sans", sans-serif' text-anchor="middle" textLength="16.0" lengthAdjust="spacingAndGlyphs" fill="#000" stroke="#000" stroke-width="0.3">75</text>
<text x="389.5" y="1238.1" font-size="14.8" font-family='"Liberation Sans", sans-serif' text-anchor="middle" textLength="16.0" lengthAdjust="spacingAndGlyphs" fill="#000" stroke="#000" stroke-width="0.3">80</text>
<text x="475.4" y="1238.1" font-size="14.8" font-family='"Liberation Sans", sans-serif' text-anchor="middle" textLength="16.0" lengthAdjust="spacingAndGlyphs" fill="#000" stroke="#000" stroke-width="0.3">85</text>
<text x="561.3" y="1238.1" font-size="14.8" font-family='"Liberation Sans", sans-serif' text-anchor="middle" textLength="16.0" lengthAdjust="spacingAndGlyphs" fill="#000" stroke="#000" stroke-width="0.3">90</text>
<text x="647.2" y="1238.1" font-size="14.8" font-family='"Liberation Sans", sans-serif' text-anchor="middle" textLength="16.0" lengthAdjust="spacingAndGlyphs" fill="#000" stroke="#000" stroke-width="0.3">95</text>
<text x="324.2" y="901.7" font-size="14.2" font-family='"Liberation Sans", sans-serif' font-weight="bold" textLength="68.6" lengthAdjust="spacingAndGlyphs" fill="#000">Melt Peak</text>
<text x="314.3" y="1265.6" font-size="14.5" font-family='"Liberation Sans", sans-serif' font-weight="bold" textLength="150.2" lengthAdjust="spacingAndGlyphs" fill="#000">Temperature, Celsius</text>
<text transform="translate(46.3,1100.9) rotate(-90)" font-size="14.4" font-weight="bold" font-family='"Liberation Sans", sans-serif' textLength="71.9" lengthAdjust="spacingAndGlyphs">-d(RFU)/dT</text>
<line x1="133.6" y1="1096" x2="648" y2="1096" stroke="#036c03" stroke-width="2.6"/>
<line x1="132.6" y1="1210" x2="648" y2="1210" stroke="#036c03" stroke-width="2.6"/>
<path d="M132.5,1198.4 L137.0,1191.0 L142.1,1184.2 L146.0,1186.2 L150.3,1186.6 L160.0,1187.0 L174.9,1187.3 L183.1,1186.1 L196.8,1180.6 L218.7,1174.6 L237.8,1171.6 L253.7,1170.2 L260.0,1170.4 L281.0,1171.6 L304.8,1172.1 L322.0,1172.9 L346.7,1173.7 L356.3,1171.6 L360.5,1166.5 L364.5,1160.6 L370.3,1143.0 L374.1,1126.4 L378.2,1110.0 L380.8,1096.6 L383.0,1077.6 L386.3,1056.3 L389.6,1031.7 L392.8,1012.0 L397.8,985.7 L402.7,961.0 L406.8,940.5 L416.6,935.6 L422.4,952.8 L425.7,966.0 L429.0,985.7 L432.2,1012.0 L435.5,1035.0 L438.8,1059.6 L442.1,1080.9 L444.6,1097.3 L445.4,1107.5 L449.7,1133.8 L454.1,1155.7 L460.7,1181.9 L467.2,1199.4 L476.0,1208.2 L482.6,1209.3 L500.0,1209.4 L520.0,1209.8 L560.0,1209.9 L648.0,1210.0" fill="none" stroke="#036c03" stroke-width="2.4" stroke-linejoin="round" stroke-linecap="round"/>
<path d="M132.5,1198.4 L137.0,1191.0 L142.1,1184.2 L146.0,1188.0 L150.3,1188.4 L160.0,1188.8 L174.9,1189.1 L183.1,1186.1 L196.8,1180.6 L218.7,1174.6 L237.8,1171.6 L253.7,1170.2 L260.0,1170.4 L281.0,1171.6 L304.8,1172.1 L322.0,1172.9 L346.7,1173.7 L356.3,1171.6 L360.5,1166.5 L364.5,1160.6 L370.3,1143.0 L374.1,1126.4 L378.2,1110.0 L380.8,1096.6 L383.0,1077.6 L386.3,1056.3 L389.6,1031.7 L392.8,1012.0 L397.8,985.7 L403.3,958.0 L407.6,935.6 L415.8,929.9 L418.5,940.0 L422.4,952.8 L425.7,966.0 L429.0,985.7 L432.2,1012.0 L435.5,1035.0 L438.8,1059.6 L442.1,1080.9 L444.6,1097.3 L445.4,1107.5 L449.7,1133.8 L454.1,1155.7 L460.7,1181.9 L467.2,1199.4 L476.0,1208.2 L482.6,1209.3 L500.0,1209.4 L520.0,1209.8 L560.0,1209.9 L648.0,1210.0" fill="none" stroke="#036c03" stroke-width="2.2" stroke-linejoin="round" stroke-linecap="round"/>
</svg></body></html>
